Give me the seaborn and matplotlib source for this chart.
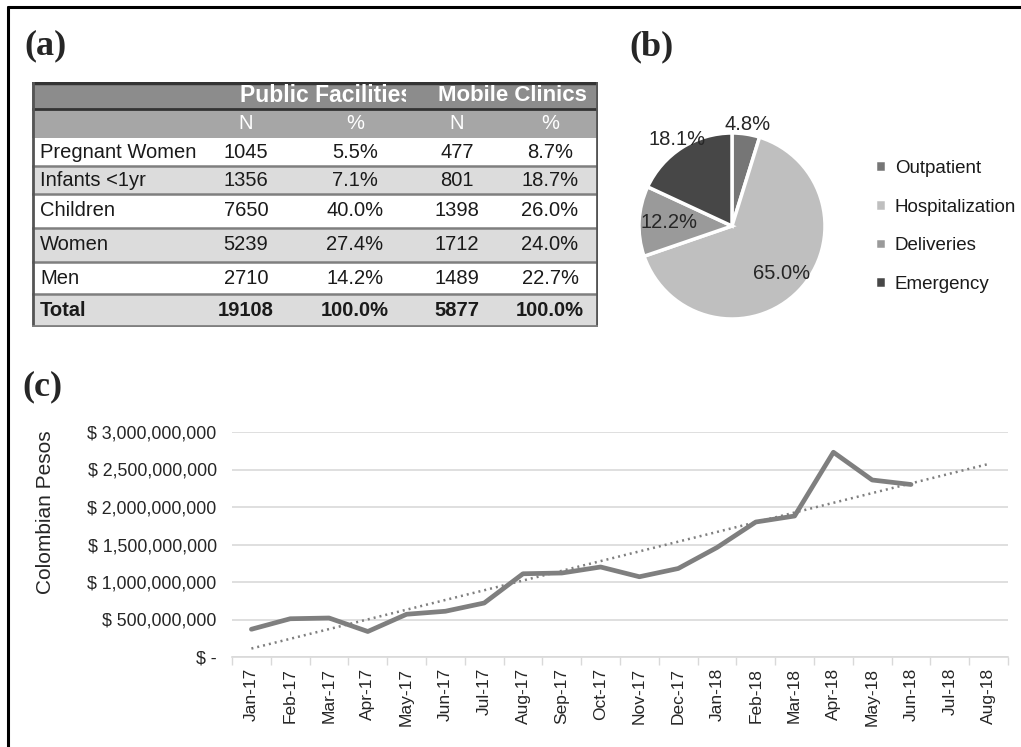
import numpy as np
import pandas as pd
import seaborn as sns
import matplotlib
matplotlib.use("Agg")
import matplotlib.pyplot as plt
from matplotlib.lines import Line2D
from matplotlib.patches import Rectangle
from matplotlib.transforms import Bbox, TransformedBbox
from matplotlib.ticker import FuncFormatter, FixedLocator

# Data
groups = ["Pregnant Women", "Infants <1yr", "Children", "Women", "Men", "Total"]
public_n = [1045, 1356, 7650, 5239, 2710, 19108]
public_pct = ["5.5%", "7.1%", "40.0%", "27.4%", "14.2%", "100.0%"]
mobile_n = [477, 801, 1398, 1712, 1489, 5877]
mobile_pct = ["8.7%", "18.7%", "26.0%", "24.0%", "22.7%", "100.0%"]

services = ["Outpatient", "Hospitalization", "Deliveries", "Emergency"]
service_share = [4.8, 65.0, 12.2, 18.1]

months = ["Jan-17", "Feb-17", "Mar-17", "Apr-17", "May-17", "Jun-17", "Jul-17",
          "Aug-17", "Sep-17", "Oct-17", "Nov-17", "Dec-17", "Jan-18", "Feb-18",
          "Mar-18", "Apr-18", "May-18", "Jun-18", "Jul-18", "Aug-18"]
cost_millions = [370, 510, 520, 340, 570, 610, 720, 1110, 1120, 1200, 1070,
                 1180, 1460, 1800, 1880, 2730, 2360, 2300]

sns.set_theme(style="white")
plt.rcParams["font.family"] = ["Liberation Sans", "DejaVu Sans"]

W, H = 1021, 747
fig = plt.figure(figsize=(W / 100, H / 100), dpi=100)


def px_axes(x0, y0, x1, y1):
    return fig.add_axes([x0 / W, 1 - y1 / H, (x1 - x0) / W, (y1 - y0) / H])


# outer frame (top and left only)
fig.add_artist(Line2D([8 / W, 8 / W], [0, 1 - 7 / H], transform=fig.transFigure,
                      color="black", lw=2.2))
fig.add_artist(Line2D([8 / W, 1], [1 - 7 / H, 1 - 7 / H], transform=fig.transFigure,
                      color="black", lw=2.2))

# panel letters
for lab, x, y in [("(a)", 24, 46), ("(b)", 629, 47), ("(c)", 22, 387)]:
    fig.text(x / W, 1 - y / H, lab, family="Liberation Serif", weight="bold",
             fontsize=26, va="center", ha="left")

# ---------------- (a) table ----------------
ax_t = px_axes(32, 82, 598, 327)
tw, th = 566, 245
ax_t.set_xlim(0, tw)
ax_t.set_ylim(th, 0)
ax_t.axis("off")
row_edges = [0, 27, 56, 84, 112, 146, 180, 212, 245]
col_x = [214, 323, 425, 518]
fs = 14.5
ink = "#1a1a1a"

ax_t.add_patch(Rectangle((0, row_edges[0]), tw, row_edges[1] - row_edges[0],
                         color="#8c8c8c", lw=0))
ax_t.add_patch(Rectangle((0, row_edges[1]), tw, row_edges[2] - row_edges[1],
                         color="#a6a6a6", lw=0))
for i in range(len(groups)):
    top, bot = row_edges[i + 2], row_edges[i + 3]
    fc = "#dcdcdc" if i % 2 == 1 else "white"
    ax_t.add_patch(Rectangle((0, top), tw, bot - top, color=fc, lw=0))
    if i > 0:
        ax_t.plot([0, tw], [top, top], color="#7f7f7f", lw=1.8)
    yc = (top + bot) / 2
    bold = "bold" if groups[i] == "Total" else "normal"
    ax_t.text(8, yc, groups[i], fontsize=fs, va="center", ha="left",
              color=ink, weight=bold)
    vals = [public_n[i], public_pct[i], mobile_n[i], mobile_pct[i]]
    for x, v in zip(col_x, vals):
        ax_t.text(x, yc, str(v), fontsize=fs, va="center", ha="center",
                  color=ink, weight=bold)

# header: "Public Facilities" overflows its cell and is cut at the edge
y1 = (row_edges[0] + row_edges[1]) / 2
pf = ax_t.text(208, y1, "Public Facilities", fontsize=16.5, weight="bold",
               color="white", va="center", ha="left", clip_on=True)
pf.set_clip_box(TransformedBbox(Bbox([[0, 0], [374, th]]), ax_t.transData))
ax_t.text(406, y1, "Mobile Clinics", fontsize=16, weight="bold",
          color="white", va="center", ha="left")
y2 = (row_edges[1] + row_edges[2]) / 2
for x, s in zip(col_x, ["N", "%", "N", "%"]):
    ax_t.text(x, y2, s, fontsize=fs, color="white", va="center", ha="center")

ax_t.plot([0, tw], [row_edges[1], row_edges[1]], color="#333333", lw=2)
ax_t.plot([0, tw], [row_edges[0] + 0.8, row_edges[0] + 0.8], color="#333333", lw=2.5)
ax_t.plot([0.8, 0.8], [0, th], color="#555555", lw=2)
ax_t.plot([tw - 0.8, tw - 0.8], [0, th], color="#555555", lw=2)
ax_t.plot([0, tw], [th - 0.8, th - 0.8], color="#7f7f7f", lw=2)

# ---------------- (b) pie ----------------
cx, cy, r = 732, 226, 93
half = 120
ax_p = px_axes(cx - half, cy - half, cx + half, cy + half)
pie_colors = ["#767676", "#bfbfbf", "#9a9a9a", "#474747"]
wedges, _ = ax_p.pie(service_share, colors=pie_colors, startangle=90,
                     counterclock=False, radius=1,
                     wedgeprops=dict(edgecolor="white", linewidth=2.5))
lim = half / r
ax_p.set_xlim(-lim, lim)
ax_p.set_ylim(-lim, lim)
ax_p.set_aspect("equal")
ax_p.axis("off")
label_r = [1.1, 0.74, 0.68, 1.1]
for w, v, lr in zip(wedges, service_share, label_r):
    ang = np.deg2rad((w.theta1 + w.theta2) / 2)
    ax_p.text(lr * np.cos(ang), lr * np.sin(ang), f"{v:.1f}%", fontsize=14.5,
              ha="center", va="center", color="#262626")

fig.legend(wedges, services, loc="upper left",
           bbox_to_anchor=(875 / W, 1 - 160 / H), frameon=False,
           fontsize=13.5, handlelength=0.6, handleheight=0.6,
           handletextpad=0.45, labelspacing=1.15, borderpad=0, borderaxespad=0,
           labelcolor="#1a1a1a")

# ---------------- (c) line ----------------
ax_l = px_axes(232, 432, 1008, 657)
df = pd.DataFrame({"idx": np.arange(len(cost_millions)),
                   "cost": np.array(cost_millions) * 1e6})
sns.lineplot(data=df, x="idx", y="cost", ax=ax_l, color="#7f7f7f", lw=3.4)

# linear trend, extended over the remaining months
coef = np.polyfit(df["idx"], df["cost"], 1)
xt = np.arange(len(months))
ax_l.plot(xt, np.polyval(coef, xt), color="#7f7f7f", lw=1.8,
          linestyle=(0, (0.8, 1.6)))

ax_l.set_xlim(-0.5, len(months) - 0.5)
ax_l.set_ylim(0, 3e9)
ax_l.set_yticks(np.arange(0, 3.01e9, 5e8))
ax_l.yaxis.set_major_formatter(FuncFormatter(
    lambda v, p: "$ -" if v == 0 else f"$ {v:,.0f}"))
ax_l.grid(axis="y", color="#d9d9d9", lw=1.2)
ax_l.set_xticks(xt)
ax_l.set_xticklabels(months, rotation=90)
ax_l.xaxis.set_minor_locator(FixedLocator(np.arange(-0.5, len(months), 1)))
ax_l.tick_params(axis="x", which="major", length=0, pad=8, labelsize=12.5,
                 labelcolor="#262626")
ax_l.tick_params(axis="x", which="minor", length=6, width=1, color="#d9d9d9",
                 bottom=True)
ax_l.tick_params(axis="y", length=0, pad=11, labelsize=12.8, labelcolor="#262626")
for s in ["left", "right", "top"]:
    ax_l.spines[s].set_visible(False)
ax_l.spines["bottom"].set_color("#d9d9d9")
ax_l.spines["bottom"].set_linewidth(1.2)
ax_l.set_xlabel("")
ax_l.set_ylabel("Colombian Pesos", fontsize=15, color="#262626")
ax_l.yaxis.set_label_coords(-177 / 776, (657 - 512) / 225)

fig.savefig("out.png", dpi=100)
